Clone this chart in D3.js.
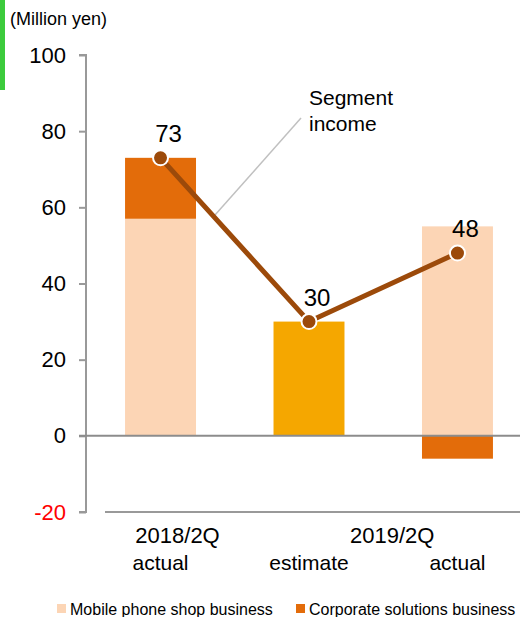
<!DOCTYPE html>
<html>
<head>
<meta charset="utf-8">
<script src="https://cdn.jsdelivr.net/npm/d3@7"></script>
<style>
  html, body { margin: 0; padding: 0; background: #fff; }
  svg { display: block; font-family: "Liberation Sans", Arial, sans-serif; }
</style>
</head>
<body>
<svg id="chart" width="520" height="617"></svg>
<script>
// Segment income by period (million yen)
const categories = ["2018/2Q actual", "2019/2Q estimate", "2019/2Q actual"];
const mobileShop = [57, null, 55];       // Mobile phone shop business
const corporate = [16, null, -6];        // Corporate solutions business
const estimateTotal = [null, 30, null];  // Estimate shown as a single total
const segmentIncome = [73, 30, 48];      // Segment income line
const yTicks = [-20, 0, 20, 40, 60, 80, 100];
const periodLabels = ["2018/2Q", "2019/2Q"];
const statusLabels = ["actual", "estimate", "actual"];
const legendItems = ["Mobile phone shop business", "Corporate solutions business"];

const colors = {
  mobile: "#FCD5B5",
  corporate: "#E36C0A",
  estimate: "#F5A700",
  line: "#9C4A0A",
  axis: "#999999",
  zero: "#8C8C8C",
  leader: "#C0C0C0"
};

const svg = d3.select("#chart");

const y = d3.scaleLinear().domain([-20, 100]).range([512, 55]);
const x = d3.scaleBand().domain(categories).range([86, 532])
  .paddingInner(0.522).paddingOuter(0.263);
const cx = d => x(d) + x.bandwidth() / 2;

// Green accent strip
svg.append("rect").attr("x", 0).attr("y", 0).attr("width", 5).attr("height", 90)
  .attr("fill", "#3CCB3C");

// Unit label
svg.append("text").attr("x", 10).attr("y", 25).attr("font-size", 18)
  .attr("fill", "#000").text("(Million yen)");

// Y axis
const yAxis = d3.axisLeft(y).tickValues(yTicks).tickSize(7).tickPadding(13)
  .tickFormat(d => String(d));
const gy = svg.append("g").attr("transform", "translate(86,0)").call(yAxis);
gy.select(".domain").attr("stroke", colors.axis).attr("stroke-width", 2)
  .attr("d", `M-7,${y(100)}H0V${y(-20)}H-7`);
gy.selectAll(".tick line").attr("stroke", colors.axis).attr("stroke-width", 2);
gy.selectAll(".tick text").attr("font-size", 22)
  .attr("font-family", "'Liberation Sans', Arial, sans-serif")
  .attr("fill", d => d < 0 ? "#FF0000" : "#000");

// Bottom rule at the axis minimum
svg.append("line").attr("x1", 105).attr("x2", 520)
  .attr("y1", y(-20)).attr("y2", y(-20))
  .attr("stroke", colors.axis).attr("stroke-width", 2);

// Bars
const bars = svg.append("g");
categories.forEach((c, i) => {
  if (mobileShop[i] != null) {
    bars.append("rect").attr("x", x(c)).attr("width", x.bandwidth())
      .attr("y", y(mobileShop[i])).attr("height", y(0) - y(mobileShop[i]))
      .attr("fill", colors.mobile);
  }
  if (corporate[i] != null) {
    const base = corporate[i] >= 0 ? mobileShop[i] : 0;
    const top = base + corporate[i];
    bars.append("rect").attr("x", x(c)).attr("width", x.bandwidth())
      .attr("y", y(Math.max(base, top)))
      .attr("height", Math.abs(y(base) - y(top)))
      .attr("fill", colors.corporate);
  }
  if (estimateTotal[i] != null) {
    bars.append("rect").attr("x", x(c)).attr("width", x.bandwidth())
      .attr("y", y(estimateTotal[i])).attr("height", y(0) - y(estimateTotal[i]))
      .attr("fill", colors.estimate);
  }
});

// Zero line
svg.append("line").attr("x1", 79).attr("x2", 520)
  .attr("y1", y(0)).attr("y2", y(0))
  .attr("stroke", colors.zero).attr("stroke-width", 2);

// Leader for the line annotation
svg.append("line").attr("x1", 301).attr("y1", 118).attr("x2", 215).attr("y2", 215)
  .attr("stroke", colors.leader).attr("stroke-width", 1.5);
const ann = svg.append("text").attr("font-size", 21).attr("fill", "#000");
ann.append("tspan").attr("x", 309).attr("y", 105).text("Segment");
ann.append("tspan").attr("x", 309).attr("y", 131).text("income");

// Segment income line
const line = d3.line().x((d, i) => cx(categories[i])).y(d => y(d));
svg.append("path").datum(segmentIncome).attr("d", line)
  .attr("fill", "none").attr("stroke", colors.line).attr("stroke-width", 5);

svg.append("g").selectAll("circle").data(segmentIncome).join("circle")
  .attr("cx", (d, i) => cx(categories[i])).attr("cy", d => y(d)).attr("r", 7.5)
  .attr("fill", colors.line).attr("stroke", "#fff").attr("stroke-width", 2);

svg.append("g").selectAll("text").data(segmentIncome).join("text")
  .attr("x", (d, i) => cx(categories[i]) + 8).attr("y", d => y(d) - 16)
  .attr("text-anchor", "middle").attr("font-size", 24).attr("fill", "#000")
  .text(d => d);

// Category labels
const labels = svg.append("g").attr("font-size", 21).attr("fill", "#000")
  .attr("text-anchor", "middle");
labels.append("text").attr("x", cx(categories[0]) + 17).attr("y", 543)
  .attr("font-size", 22).text(periodLabels[0]);
labels.append("text").attr("x", (cx(categories[1]) + cx(categories[2])) / 2 + 9).attr("y", 543)
  .attr("font-size", 22).text(periodLabels[1]);
statusLabels.forEach((t, i) => {
  labels.append("text").attr("x", cx(categories[i])).attr("y", 570).text(t);
});

// Legend
const legendColors = [colors.mobile, colors.corporate];
const legendX = [57, 296];
legendItems.forEach((t, i) => {
  svg.append("rect").attr("x", legendX[i]).attr("y", 604).attr("width", 9).attr("height", 9)
    .attr("fill", legendColors[i]);
  svg.append("text").attr("x", legendX[i] + 13).attr("y", 615)
    .attr("font-size", 16).attr("fill", "#000").text(t);
});
</script>
</body>
</html>
